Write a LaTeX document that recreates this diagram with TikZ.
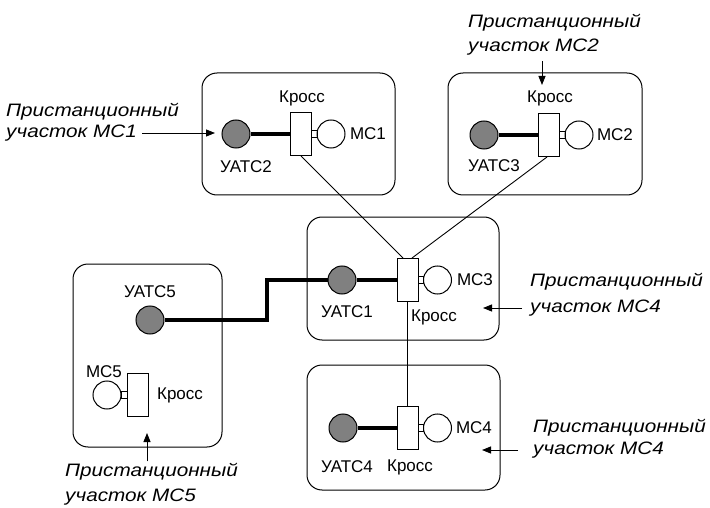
\documentclass[tikz,border=0pt]{standalone}
\usepackage{fontspec}
\setmainfont{Liberation Sans}
\newfontfamily\notefont[FakeStretch=1.15]{Liberation Sans}
\usetikzlibrary{arrows.meta,positioning,calc}
\tikzset{>={Triangle[length=9pt,width=7pt]},
  zone/.style={draw, rounded corners=15pt, line width=1pt},
  atc/.style={draw, circle, fill=gray, minimum size=28pt, inner sep=0pt, line width=1pt},
  mc/.style={draw, circle, fill=white, minimum size=28pt, inner sep=0pt, line width=1pt},
  kross/.style={draw, fill=white, minimum width=21pt, minimum height=43pt, inner sep=0pt, line width=1pt},
  stub/.style={draw, minimum width=5.5pt, minimum height=7pt, inner sep=0pt, line width=0.8pt},
  lbl/.style={font=\fontsize{17}{20}\selectfont, inner sep=0pt},
  note/.style={font=\notefont\itshape\fontsize{18}{22}\selectfont, anchor=west, inner sep=0pt},
  trunk/.style={line width=3.5pt},
  link/.style={line width=0.9pt}}

\begin{document}
\begin{tikzpicture}[x=1pt, y=-1pt]
  \useasboundingbox (0,0) rectangle (710,508);
  % zones
  \foreach \i/\x/\y/\w/\h in {1/298.5/134/193/122, 2/545/134/194/122, 3/403/278.5/192/123, 4/403.5/427.5/193/125, 5/147.5/355.5/149/183}
    \node[zone, minimum width=\w pt, minimum height=\h pt] (zone\i) at (\x,\y) {};
  % station -- cross -- set
  \foreach \i/\a/\k/\y in {1/236/301/134, 2/484/549/135, 3/342/407.5/280, 4/343/407.5/428} {
    \node[atc] (atc\i) at (\a,\y) {};
    \node[kross] (kr\i) at (\k,\y) {};
    \node[mc] (mc\i) at (\k+30,\y) {};
    \node[stub] (st\i) at ($(kr\i.east)!0.5!(mc\i.west)$) {};
    \draw[trunk] (atc\i) -- (kr\i);
  }
  \node[atc] (atc5) at (150,320) {};
  \node[kross] (kr5) at (138,395) {};
  \node[mc] (mc5) at (107,395) {};
  \node[stub, minimum width=6.5pt] (st5) at ($(mc5.east)!0.5!(kr5.west)$) {};
  % labels
  \foreach \t/\x/\y [count=\n] in {Кросс/302/98, МС1/368/134, УАТС2/246/167,
      Кросс/550/98, МС2/615/135, УАТС3/494/166,
      МС3/475/280, УАТС1/347/312, Кросс/434/317,
      МС4/474/428, УАТС4/347/467, Кросс/410/467,
      УАТС5/150/292, МС5/104/372, Кросс/180/395}
    \node[lbl] (lab\n) at (\x,\y) {\t};
  % lines between crosses
  \draw[link] (kr1.south) -- ([xshift=-4.5pt]kr3.north);
  \draw[link] ([xshift=-2pt]kr2.south) -- ([xshift=4.5pt]kr3.north);
  \draw[link] (kr3) -- (kr4);
  \coordinate (bend) at (267,300);
  \draw[trunk] (atc5.east) -| (bend) |- (atc3.west);
  % notes
  \foreach \n/\x/\ya/\yb/\m in {1/6/112/133/МС1, 2/468/23/47/МС2, 3/530/282/308/МС4, 4/533/428/450/МС4, 5/65/472/497/МС5} {
    \node[note] (na\n) at (\x,\ya) {Пристанционный};
    \node[note] (nb\n) at (\x,\yb) {участок \m};
  }
  \coordinate (tip1) at (215,133);
  \coordinate (tip2) at (542,85);
  \coordinate (tip3) at (483,308);
  \coordinate (tip4) at (482,450);
  \coordinate (tip5) at (147,433);
  \draw[->, link] ([xshift=5pt]nb1.east) -- (tip1);
  \draw[->, link] (tip2 |- nb2.south) ++(0,6) -- (tip2);
  \draw[->, link] ([xshift=-8pt]nb3.west) -- (tip3);
  \draw[->, link] ([xshift=-15pt]nb4.west) -- (tip4);
  \draw[->, link] (tip5 |- na5.north) ++(0,-2) -- (tip5);
\end{tikzpicture}
\end{document}
